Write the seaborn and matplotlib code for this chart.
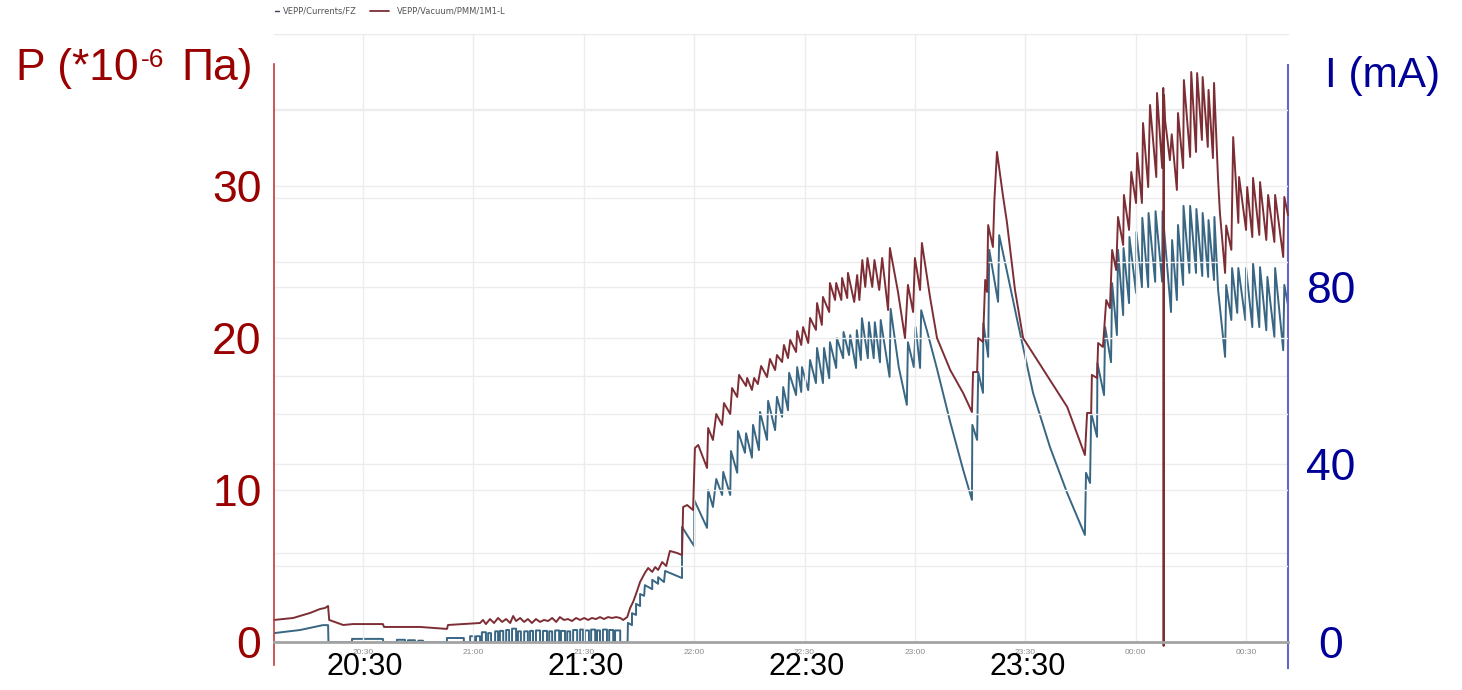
import numpy as np
import matplotlib
matplotlib.use("Agg")
import matplotlib.pyplot as plt
import seaborn as sns
from matplotlib.ticker import FixedLocator, FuncFormatter
from matplotlib.lines import Line2D

# ---------------------------------------------------------------------------
# Data: time in minutes after 20:00, current in mA, pressure in 1e-6 Pa
# ---------------------------------------------------------------------------

# Beam current, quiet period before injection
current_low = [(5.8, 2.0), (12.9, 2.7), (19.1, 3.8), (20.5, 3.8), (20.6, 0.0),
               (27.0, 0.0), (27.0, 0.7), (35.4, 0.7), (35.5, 0.0)]

# Short current pulses between 20:39 and 21:40
pulse_start = [39.2, 42.2, 45.0, 52.8, 59.1, 60.7, 62.3, 64.0, 65.9, 67.2, 68.9,
               70.5, 72.1, 73.8, 75.4, 77.0, 78.9, 80.6, 82.2, 83.8, 85.5, 87.1,
               89.0, 90.3, 92.0, 93.6, 95.2, 96.9, 98.5]
pulse_end = [41.4, 44.1, 46.3, 57.4, 60.2, 61.8, 63.4, 64.8, 66.7, 68.1, 69.7,
             71.6, 72.9, 74.8, 76.2, 78.1, 80.0, 81.4, 83.3, 84.9, 86.3, 88.2,
             89.8, 91.4, 93.1, 94.4, 96.3, 98.0, 99.9]
pulse_height = [0.5, 0.4, 0.3, 0.9, 1.3, 1.3, 2.2, 2.0, 2.4, 2.5, 2.7,
                3.0, 2.4, 2.4, 2.5, 2.6, 2.5, 2.4, 2.6, 2.5, 2.4, 2.7,
                2.8, 2.6, 2.8, 2.6, 2.8, 2.7, 2.6]

# Beam current, stacking up to the first dump (21:42 - 23:15)
current_ramp = [
    (101.9, 0.0), (102.0, 4.3), (103.1, 3.8), (103.1, 6.5), (104.2, 6.1), (104.2, 8.6),
    (105.3, 8.1), (105.3, 10.8), (106.4, 10.4), (106.6, 12.8), (108.6, 11.9), (108.6, 14.0),
    (110.2, 13.1), (110.2, 14.6), (111.8, 13.5), (112.1, 16.0), (116.7, 14.4), (116.7, 25.9),
    (120.0, 21.6), (120.0, 32.0), (123.5, 25.7), (123.8, 34.2), (125.1, 30.4), (126.0, 36.7),
    (127.6, 33.1), (127.9, 38.3), (129.8, 33.1), (130.0, 43.0), (131.7, 38.1), (131.9, 47.5),
    (133.8, 42.6), (134.1, 47.0), (135.7, 41.5), (136.0, 48.9), (137.6, 43.2), (137.9, 51.8),
    (139.8, 45.5), (140.1, 54.3), (142.0, 47.7), (142.5, 55.2), (143.9, 50.7), (144.2, 57.4),
    (145.5, 52.2), (145.8, 60.6), (147.7, 55.6), (148.0, 61.9), (149.1, 56.3), (149.3, 61.9),
    (151.0, 56.7), (151.5, 63.5), (153.1, 58.3), (153.4, 66.2), (155.0, 58.3), (155.3, 66.2),
    (156.7, 59.4), (156.9, 67.5), (158.6, 61.7), (158.8, 68.4), (160.5, 63.9), (160.6, 69.8),
    (162.1, 64.6), (162.4, 69.1), (164.0, 61.7), (164.2, 70.2), (165.3, 63.5), (165.6, 72.9),
    (167.2, 63.9), (167.5, 72.0), (168.8, 63.9), (169.1, 72.0), (170.5, 63.0), (170.7, 72.5),
    (173.1, 59.7), (173.4, 75.0), (175.6, 61.9), (177.8, 53.4), (178.1, 67.5), (179.7, 61.9),
    (180.2, 70.9), (181.4, 61.7), (181.7, 74.7), (183.3, 70.0), (186.0, 61.5), (189.6, 49.5),
    (193.1, 38.8), (195.5, 32.0),
]

# Beam current, refills and the last stack (23:15 - 00:41)
current_late = [
    (195.6, 48.9), (196.9, 45.5), (197.2, 60.8), (198.5, 56.1), (198.6, 71.8), (199.9, 64.2),
    (200.2, 88.3), (202.6, 76.6), (202.9, 91.6), (205.0, 83.5), (207.8, 72.5), (212.1, 56.1),
    (216.7, 43.9), (221.4, 33.5), (226.2, 24.1), (226.5, 38.1), (227.6, 35.8), (227.9, 51.6),
    (229.5, 46.2), (229.6, 62.8), (231.4, 55.6), (231.7, 70.9), (233.3, 63.0), (233.6, 80.8),
    (234.9, 69.1), (235.2, 88.3), (236.6, 73.6), (236.7, 88.7), (238.2, 76.3), (238.3, 91.2),
    (240.1, 78.6), (240.2, 92.3), (241.7, 79.9), (241.8, 95.5), (243.4, 79.9), (243.5, 96.6),
    (245.3, 81.1), (245.4, 97.0), (247.2, 81.1), (247.3, 97.0), (249.6, 74.3), (249.9, 90.5),
    (251.2, 77.0), (251.5, 93.9), (252.9, 80.4), (253.0, 98.2), (254.6, 83.1), (254.8, 98.2),
    (256.4, 83.1), (256.5, 97.5), (258.1, 82.4), (258.2, 96.6), (259.7, 82.2), (259.8, 95.0),
    (261.3, 81.5), (261.4, 95.7), (262.4, 79.3), (264.3, 64.2), (264.6, 80.4), (266.0, 72.5),
    (266.2, 84.2), (267.6, 74.1), (267.9, 84.2), (269.8, 72.5), (270.0, 84.2), (271.7, 70.9),
    (271.9, 85.3), (273.6, 70.9), (273.8, 84.4), (275.5, 70.2), (275.8, 82.2), (277.7, 68.7),
    (277.9, 84.2), (280.1, 65.7), (280.4, 80.4), (281.4, 75.9),
]

# Pressure, quiet period
pressure_low = [
    (5.8, 1.45), (11.0, 1.58), (15.6, 1.91), (18.3, 2.17), (19.7, 2.24), (20.5, 2.37),
    (20.8, 1.45), (24.6, 1.12), (27.3, 1.18), (35.4, 1.18), (35.7, 0.99), (45.5, 0.99),
    (52.8, 0.86), (53.1, 1.12), (57.2, 1.18), (61.8, 1.25), (62.6, 1.45), (63.4, 1.18),
    (64.5, 1.51), (65.6, 1.25), (66.7, 1.58), (67.8, 1.32), (68.9, 1.51), (70.0, 1.25),
    (70.8, 1.71), (71.6, 1.38), (72.7, 1.58), (73.8, 1.32), (74.8, 1.51), (75.9, 1.25),
    (77.0, 1.51), (78.1, 1.32), (79.2, 1.45), (80.3, 1.38), (81.4, 1.58), (82.5, 1.32),
    (83.5, 1.64), (84.6, 1.45), (85.7, 1.51), (86.8, 1.38), (87.9, 1.58), (89.0, 1.45),
    (90.1, 1.58), (91.2, 1.45), (92.2, 1.58), (93.3, 1.51), (94.4, 1.64), (95.5, 1.51),
    (96.6, 1.64), (97.7, 1.58), (98.8, 1.64), (99.9, 1.58), (100.7, 1.45),
]

# Pressure while current is stacked (21:42 - 23:15)
pressure_ramp = [
    (101.8, 1.64), (102.6, 2.24), (103.4, 2.63), (104.2, 3.16), (105.3, 3.95), (106.6, 4.54),
    (107.5, 4.87), (108.6, 4.61), (109.4, 4.93), (110.2, 4.74), (111.3, 5.26), (112.4, 5.00),
    (113.4, 5.99), (115.3, 5.86), (116.7, 5.72), (117.0, 8.88), (118.1, 9.01), (119.7, 8.68),
    (120.2, 12.76), (121.1, 12.96), (123.5, 11.45), (123.8, 14.08), (125.1, 13.29), (126.0, 15.00),
    (127.6, 14.28), (128.1, 15.72), (129.8, 15.00), (130.3, 16.71), (131.7, 16.12), (132.2, 17.57),
    (134.1, 16.84), (134.4, 17.37), (135.7, 16.58), (136.3, 17.37), (137.3, 16.97), (138.2, 18.16),
    (139.8, 17.43), (140.6, 18.62), (142.0, 17.89), (142.5, 18.88), (143.9, 18.42), (144.4, 19.54),
    (145.5, 18.68), (146.1, 19.87), (147.7, 19.08), (148.0, 20.46), (149.1, 19.54), (149.6, 20.72),
    (151.0, 19.67), (151.5, 21.32), (153.1, 20.53), (153.4, 22.30), (154.7, 20.86), (155.0, 22.70),
    (156.7, 21.71), (156.9, 23.62), (158.3, 22.50), (158.6, 23.62), (160.0, 22.50), (160.2, 23.95),
    (161.6, 22.63), (161.8, 24.28), (163.5, 22.37), (164.3, 24.14), (164.9, 22.50), (165.7, 25.13),
    (166.5, 23.36), (167.1, 25.26), (168.4, 23.36), (169.0, 25.13), (170.3, 23.16), (171.1, 25.26),
    (172.7, 21.84), (173.2, 25.92), (175.4, 23.03), (177.3, 20.00), (178.1, 23.49), (179.5, 21.71),
    (180.0, 25.26), (181.4, 23.16), (181.9, 26.25), (184.1, 22.70), (186.0, 20.00), (189.6, 17.89),
    (193.1, 16.38), (195.5, 15.13),
]

# Pressure, refills and the last stack (23:15 - 00:41)
pressure_late = [
    (195.8, 17.76), (196.9, 17.76), (197.2, 20.00), (198.5, 19.74), (199.1, 23.82), (199.6, 23.03),
    (199.9, 27.43), (201.2, 25.99), (201.6, 29.08), (202.3, 32.24), (203.9, 29.41), (205.0, 27.63),
    (207.2, 23.16), (209.4, 20.00), (216.7, 17.24), (221.4, 15.46), (226.2, 12.30), (226.8, 15.07),
    (227.9, 15.07), (228.1, 17.57), (229.5, 17.37), (229.8, 19.67), (231.1, 19.41), (232.0, 22.50),
    (233.0, 21.97), (233.6, 25.79), (234.7, 24.47), (235.2, 27.96), (236.6, 26.12), (236.8, 29.41),
    (238.2, 27.11), (238.8, 30.92), (240.1, 28.88), (240.4, 32.17), (241.7, 28.88), (242.0, 34.14),
    (243.4, 29.93), (243.9, 35.33), (245.6, 30.59), (245.8, 36.12), (247.2, 31.18), (247.5, 36.45),
    (247.6, -0.26), (247.7, 35.99), (248.0, 34.30), (249.3, 31.70), (249.8, 33.40), (251.2, 29.74),
    (251.5, 34.80), (252.9, 31.18), (253.1, 36.97), (254.8, 31.91), (255.1, 37.50), (256.4, 32.24),
    (256.7, 37.43), (258.0, 33.03), (258.2, 37.17), (259.6, 32.57), (259.8, 36.32), (261.0, 31.84),
    (261.3, 36.78), (262.4, 30.39), (262.9, 28.22), (264.3, 24.28), (264.6, 27.40), (266.0, 25.80),
    (266.5, 33.22), (267.9, 27.57), (268.1, 30.59), (270.0, 27.11), (270.3, 29.93), (271.7, 26.64),
    (271.9, 30.53), (273.6, 26.78), (273.8, 30.26), (275.5, 26.45), (276.0, 29.41), (277.7, 26.32),
    (277.9, 29.41), (280.1, 25.33), (280.4, 29.28), (281.4, 28.09),
]

time_ticks = [30, 60, 90, 120, 150, 180, 210, 240, 270]
big_time_labels = ["20:30", "21:30", "22:30", "23:30"]
big_time_ticks = [30, 90, 150, 210]
pressure_ticks = [0, 10, 20, 30]
current_ticks = [0, 40, 80]

# ---------------------------------------------------------------------------
RED = "#7d2e35"
BLUE = "#386683"
W, H = 1462, 690

sns.set_style("white")
plt.rcParams["font.family"] = ["Liberation Sans", "DejaVu Sans"]


def build_pulses(starts, ends, heights):
    pts = []
    for s, e, h in zip(starts, ends, heights):
        pts += [(s, 0.0), (s, h), (e, h), (e, 0.0)]
    return pts


current_pts = current_low + build_pulses(pulse_start, pulse_end, pulse_height) \
    + current_ramp + current_late
pressure_pts = pressure_low + pressure_ramp + pressure_late
ct, cv = map(np.array, zip(*current_pts))
pt, pv = map(np.array, zip(*pressure_pts))

fig = plt.figure(figsize=(W / 100, H / 100), dpi=100)
ax = fig.add_axes([274 / W, 48 / H, 1014 / W, 608 / H])
ax2 = ax.twinx()
ax.set_zorder(2)
ax2.set_zorder(1)
ax.patch.set_visible(False)

# current (right scale)
sns.lineplot(x=ct, y=cv, ax=ax2, sort=False, estimator=None, color=BLUE, lw=1.4)
# pressure (left scale)
sns.lineplot(x=pt, y=pv, ax=ax, sort=False, estimator=None, color=RED, lw=1.4)
for ln in ax.get_lines():
    ln.set_clip_on(False)

xmin, xmax = 5.8, 281.4
ax.set_xlim(xmin, xmax)
ax2.set_xlim(xmin, xmax)
ax.set_ylim(0, 40)
ax2.set_ylim(0, 136.9)
ax.set(xlabel="", ylabel="")
ax2.set(xlabel="", ylabel="")

GRID = "#ececec"
# left scale
ax.yaxis.set_major_locator(FixedLocator(pressure_ticks))
ax.yaxis.set_minor_locator(FixedLocator([5, 15, 25, 35, 40]))
ax.tick_params(axis="y", which="both", length=0, labelsize=32,
               labelcolor="#990000", pad=9)
ax.grid(axis="y", which="both", color=GRID, lw=1)
# time axis
ax.xaxis.set_major_locator(FixedLocator(time_ticks))
ax.xaxis.set_major_formatter(FuncFormatter(
    lambda m, _: f"{(20 + int(m) // 60) % 24:02d}:{int(m) % 60:02d}"))
ax.tick_params(axis="x", length=0, labelsize=6, labelcolor="#8a8a8a", pad=5)
ax.grid(axis="x", color=GRID, lw=1)
ax.set_axisbelow(True)

# right scale
ax2.yaxis.set_major_locator(FixedLocator(current_ticks))
ax2.yaxis.set_minor_locator(FixedLocator([20, 60, 100, 120]))
ax2.tick_params(axis="y", which="both", length=0, labelsize=32,
                labelcolor="#000099", pad=31)
ax2.grid(axis="y", which="both", color=GRID, lw=1)
ax2.set_axisbelow(True)

# spines
ax.spines["right"].set_visible(False)
ax.spines["top"].set_color(GRID)
ax.spines["bottom"].set_color("#a4a4a4")
ax.spines["bottom"].set_linewidth(2)
ax.spines["left"].set_color("#c43a3a")
ax.spines["left"].set_linewidth(1.2)
ax.spines["left"].set_bounds(-1.5, 38)
for s in ("left", "top", "bottom"):
    ax2.spines[s].set_visible(False)
ax2.spines["right"].set_color("#6464cc")
ax2.spines["right"].set_linewidth(1.5)
ax2.spines["right"].set_bounds(-5.9, 130)

# large clock labels under the time axis
for t, lab in zip(big_time_ticks, big_time_labels):
    ax.annotate(lab, xy=(t, 0), xycoords=("data", "axes fraction"),
                xytext=(1.5, -23.8), textcoords="offset points",
                ha="center", va="baseline", fontsize=22, color="black",
                annotation_clip=False)

# axis titles
fig.text(16 / W, 1 - 80 / H, "P (*10", fontsize=32, color="#990000",
         ha="left", va="baseline")
fig.text(141 / W, 1 - 67 / H, "-6", fontsize=19, color="#990000",
         ha="left", va="baseline")
fig.text(181 / W, 1 - 80 / H, "Па)", fontsize=32, color="#990000",
         ha="left", va="baseline")
fig.text(1325 / W, 1 - 87 / H, "I (mA)", fontsize=30.5, color="#000099",
         ha="left", va="baseline")

# legend strip
yl = 1 - 11 / H
fig.add_artist(Line2D([275 / W, 279 / W], [yl, yl], color="#3a3f55", lw=1))
fig.text(283 / W, yl, "VEPP/Currents/FZ", fontsize=6, color="#555555",
         va="center", ha="left", family="DejaVu Sans")
fig.add_artist(Line2D([370 / W, 389 / W], [yl, yl], color=RED, lw=1.3))
fig.text(397 / W, yl, "VEPP/Vacuum/PMM/1M1-L", fontsize=6, color="#555555",
         va="center", ha="left", family="DejaVu Sans")

plt.setp(ax2.get_yticklabels(), ha="center")

fig.savefig("out.png", dpi=100)
